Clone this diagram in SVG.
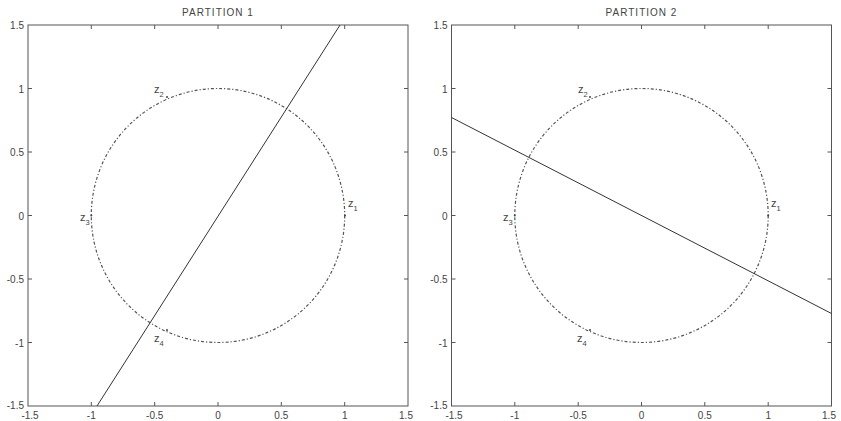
<svg xmlns="http://www.w3.org/2000/svg" width="841" height="421" viewBox="0 0 841 421">
<style>
.frame{fill:none;stroke:#555;stroke-width:1}
.tick{stroke:#555;stroke-width:1}
.lbl{font-family:"Liberation Sans",Arial,sans-serif;font-size:10px;fill:#444}
.ttl{font-family:"Liberation Sans",Arial,sans-serif;font-size:10px;fill:#444;letter-spacing:1px}
.circ{fill:none;stroke:#555;stroke-width:1.2;stroke-dasharray:3 2 1.2 2}
.part{stroke:#333;stroke-width:1;fill:none}
.zl{font-family:"Liberation Sans",Arial,sans-serif;font-size:11px;fill:#444}
.sub{font-size:7.5px}
.pt{fill:#444}
</style>
<rect width="841" height="421" fill="#fff"/>
<g id="plot1">
  <text class="ttl" x="218" y="16" text-anchor="middle">PARTITION 1</text>
  <rect class="frame" x="28" y="25" width="380" height="381"/>
  <g id="ticks1" class="tick">
    <path d="M91.3 406v-4M154.7 406v-4M218 406v-4M281.3 406v-4M344.7 406v-4M91.3 25v4M154.7 25v4M218 25v4M281.3 25v4M344.7 25v4"/>
    <path d="M28 88.5h4M28 152h4M28 215.5h4M28 279h4M28 342.5h4M408 88.5h-4M408 152h-4M408 215.5h-4M408 279h-4M408 342.5h-4"/>
  </g>
  <g class="lbl" text-anchor="end">
    <text x="24" y="29">1.5</text>
    <text x="24" y="92.5">1</text>
    <text x="24" y="156">0.5</text>
    <text x="24" y="219.5">0</text>
    <text x="24" y="283">-0.5</text>
    <text x="24" y="346.5">-1</text>
    <text x="24" y="409">-1.5</text>
  </g>
  <g class="lbl" text-anchor="middle">
    <text x="30" y="419">-1.5</text>
    <text x="91.3" y="419">-1</text>
    <text x="154.7" y="419">-0.5</text>
    <text x="218" y="419">0</text>
    <text x="281.3" y="419">0.5</text>
    <text x="344.7" y="419">1</text>
    <text x="406" y="419">1.5</text>
  </g>
  <ellipse class="circ" cx="218" cy="215.5" rx="126.7" ry="127"/>
  <line id="sep1" class="part" x1="340" y1="25" x2="97" y2="406"/>
  <g id="p1z1"><circle class="pt" cx="345" cy="215.5" r="1"/><text class="zl" x="348" y="207">z<tspan class="sub" dy="4">1</tspan></text></g>
  <g id="p1z2"><circle class="pt" cx="167" cy="97" r="1"/><text class="zl" x="154" y="93">z<tspan class="sub" dy="4">2</tspan></text></g>
  <g id="p1z3"><circle class="pt" cx="91.3" cy="215.5" r="1"/><text class="zl" x="80" y="221">z<tspan class="sub" dy="4">3</tspan></text></g>
  <g id="p1z4"><circle class="pt" cx="167" cy="330" r="1"/><text class="zl" x="154" y="342">z<tspan class="sub" dy="4">4</tspan></text></g>
</g>
<g id="plot2">
  <text class="ttl" x="641.5" y="16" text-anchor="middle">PARTITION 2</text>
  <rect class="frame" x="451.5" y="25" width="380" height="381"/>
  <g id="ticks2" class="tick">
    <path d="M514.8 406v-4M578.2 406v-4M641.5 406v-4M704.8 406v-4M768.2 406v-4M514.8 25v4M578.2 25v4M641.5 25v4M704.8 25v4M768.2 25v4"/>
    <path d="M451.5 88.5h4M451.5 152h4M451.5 215.5h4M451.5 279h4M451.5 342.5h4M831.5 88.5h-4M831.5 152h-4M831.5 215.5h-4M831.5 279h-4M831.5 342.5h-4"/>
  </g>
  <g class="lbl" text-anchor="end">
    <text x="447.5" y="29">1.5</text>
    <text x="447.5" y="92.5">1</text>
    <text x="447.5" y="156">0.5</text>
    <text x="447.5" y="219.5">0</text>
    <text x="447.5" y="283">-0.5</text>
    <text x="447.5" y="346.5">-1</text>
    <text x="447.5" y="409">-1.5</text>
  </g>
  <g class="lbl" text-anchor="middle">
    <text x="454" y="419">-1.5</text>
    <text x="514.8" y="419">-1</text>
    <text x="578.2" y="419">-0.5</text>
    <text x="641.5" y="419">0</text>
    <text x="704.8" y="419">0.5</text>
    <text x="768.2" y="419">1</text>
    <text x="829" y="419">1.5</text>
  </g>
  <ellipse class="circ" cx="641.5" cy="215.5" rx="126.7" ry="127"/>
  <line id="sep2" class="part" x1="451.5" y1="117.5" x2="831.5" y2="313.5"/>
  <g id="p2z1"><circle class="pt" cx="768.2" cy="215.5" r="1"/><text class="zl" x="771" y="207">z<tspan class="sub" dy="4">1</tspan></text></g>
  <g id="p2z2"><circle class="pt" cx="590" cy="97" r="1"/><text class="zl" x="578" y="93">z<tspan class="sub" dy="4">2</tspan></text></g>
  <g id="p2z3"><circle class="pt" cx="514.8" cy="215.5" r="1"/><text class="zl" x="503" y="221">z<tspan class="sub" dy="4">3</tspan></text></g>
  <g id="p2z4"><circle class="pt" cx="590" cy="330" r="1"/><text class="zl" x="577" y="342">z<tspan class="sub" dy="4">4</tspan></text></g>
</g>
</svg>
